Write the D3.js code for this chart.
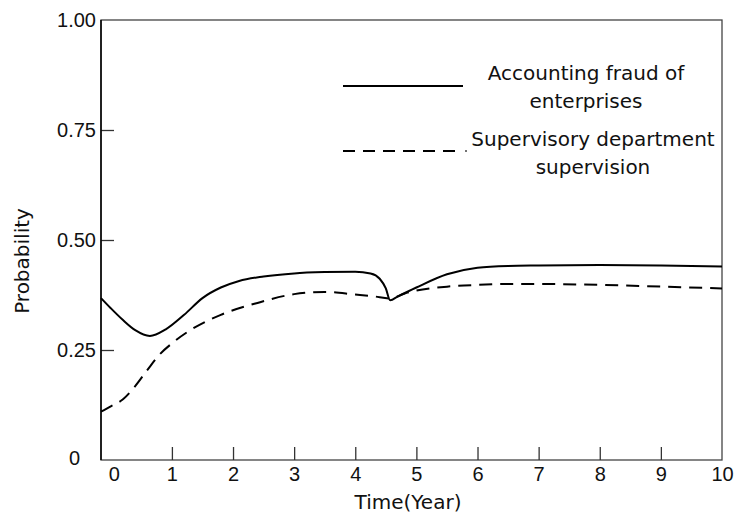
<!DOCTYPE html>
<html>
<head>
<meta charset="utf-8">
<script src="https://cdn.jsdelivr.net/npm/d3@7"></script>
<style>
  body { margin: 0; background: #fff; }
  svg { display: block; font-family: "DejaVu Sans", sans-serif; }
  .axis text { font-size: 20px; fill: #111; }
</style>
</head>
<body>
<svg id="chart" width="736" height="513"></svg>
<script>
const W = 736;
const H = 513;
const LEFT = 101, RIGHT = 722, TOP = 20, BOTTOM = 460;

// time in years
const time = [-0.16, 0, 0.2, 0.4, 0.64, 0.9, 1.2, 1.5, 1.8, 2.1, 2.5, 3.0, 3.5, 4.0, 4.25, 4.4, 4.5, 4.57, 4.7, 5.0, 5.5, 6.0, 6.5, 7, 8, 9, 10];
// accounting fraud of enterprises
const fraud = [0.368, 0.345, 0.318, 0.295, 0.282, 0.297, 0.33, 0.368, 0.392, 0.407, 0.417, 0.424, 0.427, 0.428, 0.424, 0.412, 0.39, 0.363, 0.372, 0.392, 0.422, 0.437, 0.441, 0.442, 0.443, 0.442, 0.44];

const timeSup = [-0.16, 0, 0.2, 0.4, 0.6, 0.8, 1.0, 1.3, 1.8, 2.4, 3.0, 3.5, 4.0, 4.3, 4.57, 4.8, 5.0, 5.5, 6.0, 6.5, 7, 8, 9, 10];
// supervisory department supervision
const supervision = [0.11, 0.122, 0.138, 0.168, 0.205, 0.24, 0.265, 0.295, 0.33, 0.357, 0.377, 0.382, 0.376, 0.372, 0.367, 0.378, 0.385, 0.394, 0.398, 0.4, 0.4, 0.398, 0.394, 0.39];

const xTicks = [1, 2, 3, 4, 5, 6, 7, 8, 9];
const xLabels = [0, 1, 2, 3, 4, 5, 6, 7, 8, 9, 10];
const yTicks = [0.25, 0.5, 0.75];
const yLabels = [0, 0.25, 0.5, 0.75, 1];
const legendNames = [["Accounting fraud of", "enterprises"], ["Supervisory department", "supervision"]];

const svg = d3.select('#chart');

const xScale = d3.scaleLinear().domain([-0.16, 10]).range([LEFT, RIGHT]);
const yScale = d3.scaleLinear().domain([0, 1]).range([BOTTOM, TOP]);

// frame
svg.append('rect')
    .attr('x', LEFT).attr('y', TOP)
    .attr('width', RIGHT - LEFT).attr('height', BOTTOM - TOP)
    .attr('fill', 'none').attr('stroke', '#444').attr('stroke-width', 1.3);

// x ticks (inside)
svg.append('g')
    .attr('class', 'axis')
    .attr('transform', 'translate(0,' + BOTTOM + ')')
    .call(d3.axisBottom(xScale).tickValues(xTicks).tickSize(-13).tickFormat(''))
    .call(g => g.select('.domain').remove())
    .call(g => g.selectAll('line').attr('stroke', '#333').attr('stroke-width', 1.3));

svg.append('g')
    .attr('class', 'axis')
    .attr('transform', 'translate(0,' + BOTTOM + ')')
    .call(d3.axisBottom(xScale).tickValues(xLabels).tickSize(0).tickPadding(7).tickFormat(d3.format('d')))
    .call(g => g.select('.domain').remove())
    .call(g => g.selectAll('text').filter(d => d === 0).attr('x', 3));

// y ticks (inside)
svg.append('g')
    .attr('class', 'axis')
    .attr('transform', 'translate(' + LEFT + ',0)')
    .call(d3.axisLeft(yScale).tickValues(yTicks).tickSize(-13).tickFormat(''))
    .call(g => g.select('.domain').remove())
    .call(g => g.selectAll('line').attr('stroke', '#333').attr('stroke-width', 1.3));

svg.append('g')
    .attr('class', 'axis')
    .attr('transform', 'translate(' + LEFT + ',0)')
    .call(d3.axisLeft(yScale).tickValues(yLabels).tickSize(0).tickPadding(5)
        .tickFormat(d => d === 0 ? '0' : d3.format('.2f')(d)))
    .call(g => g.select('.domain').remove())
    .call(g => g.selectAll('text').filter(d => d === 0).attr('x', -21).attr('dy', '0.22em'));

// left axis line in black
svg.append('line')
    .attr('x1', LEFT).attr('x2', LEFT).attr('y1', TOP).attr('y2', BOTTOM)
    .attr('stroke', '#000').attr('stroke-width', 1.5);

// axis titles
svg.append('text')
    .attr('x', 408).attr('y', 509)
    .attr('text-anchor', 'middle')
    .attr('font-size', 20).attr('fill', '#111')
    .text('Time(Year)');

svg.append('text')
    .attr('transform', 'translate(29,261) rotate(-90)')
    .attr('text-anchor', 'middle')
    .attr('font-size', 20).attr('fill', '#111')
    .text('Probability');

// lines
const line = d3.line()
    .x(d => xScale(d[0]))
    .y(d => yScale(d[1]))
    .curve(d3.curveMonotoneX);

svg.append('path')
    .datum(d3.zip(time, fraud))
    .attr('d', line)
    .attr('fill', 'none')
    .attr('stroke', '#000')
    .attr('stroke-width', 2);

svg.append('path')
    .datum(d3.zip(timeSup, supervision))
    .attr('d', line)
    .attr('fill', 'none')
    .attr('stroke', '#000')
    .attr('stroke-width', 2)
    .attr('stroke-dasharray', '13,8');

// legend
const legend = svg.append('g');
legend.append('line')
    .attr('x1', 343).attr('x2', 463).attr('y1', 86).attr('y2', 86)
    .attr('stroke', '#000').attr('stroke-width', 2);
legend.append('line')
    .attr('x1', 343).attr('x2', 460).attr('y1', 151).attr('y2', 151)
    .attr('stroke', '#000').attr('stroke-width', 2)
    .attr('stroke-dasharray', '12,8');
legend.append('circle')
    .attr('cx', 466).attr('cy', 151).attr('r', 1)
    .attr('fill', '#444');

const legendPos = [{ x: 586, y: 80 }, { x: 593, y: 146 }];
legendNames.forEach((lines, i) => {
    lines.forEach((s, j) => {
        legend.append('text')
            .attr('x', legendPos[i].x)
            .attr('y', legendPos[i].y + j * 28)
            .attr('text-anchor', 'middle')
            .attr('font-size', 20).attr('fill', '#111')
            .text(s);
    });
});
</script>
</body>
</html>
